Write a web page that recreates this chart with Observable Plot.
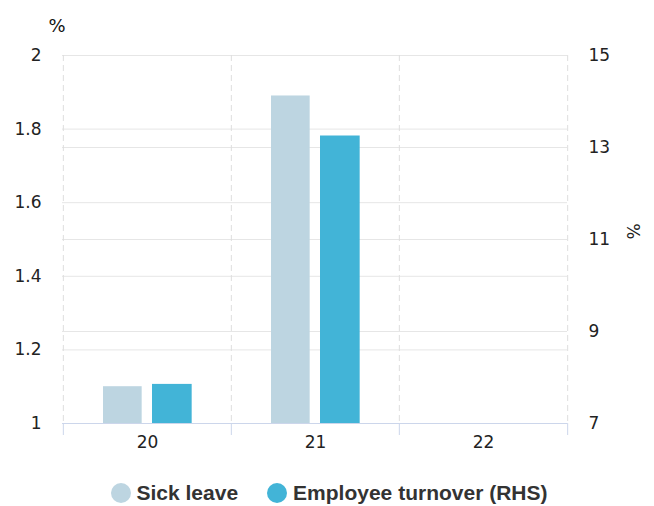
<!DOCTYPE html>
<html>
<head>
<meta charset="utf-8">
<script src="https://cdn.jsdelivr.net/npm/d3@7"></script>
<script src="https://cdn.jsdelivr.net/npm/@observablehq/plot@0.6"></script>
<style>
  html, body { margin: 0; padding: 0; background: #fff; }
  #chart { width: 654px; }
  .legend { display: flex; justify-content: center; align-items: center; gap: 29px; height: 36px; padding-left: 4px; padding-top: 5px;
    font-family: "Liberation Sans", Arial, sans-serif; font-weight: bold; font-size: 21px; color: #333; }
  .legend .item { display: flex; align-items: center; gap: 6px; }
  .legend .dot { width: 20px; height: 20px; border-radius: 50%; display: inline-block; }
</style>
</head>
<body>
<div id="chart"></div>
<script>
const categories = ["20", "21", "22"];
const sickLeave = [1.1, 1.89, null];
const turnover = [7.85, 13.25, null];
const leftTicks = [1, 1.2, 1.4, 1.6, 1.8, 2];
const rightTicks = [7, 9, 11, 13, 15];
const seriesNames = ["Sick leave", "Employee turnover (RHS)"];
const colors = ["#bdd5e1", "#42b4d7"];

const W = 654, H = 470, mL = 62, mR = 87, mT = 55, mB = 47;
const bw = (W - mL - mR) / categories.length;

// right axis [7,15] mapped onto left axis [1,2]
const toLeft = v => v == null ? null : 1 + (v - 7) / 8;
const fromLeft = d => Math.round((d - 1) * 8 + 7);

const rows = categories.map((c, i) => ({cat: c, sick: sickLeave[i], turn: toLeft(turnover[i])}));

const font = "'DejaVu Sans', sans-serif";
const chart = Plot.plot({
  width: W, height: H,
  marginLeft: mL, marginRight: mR, marginTop: mT, marginBottom: mB,
  style: {fontFamily: font, fontSize: "16px", color: "#222", background: "#fff"},
  x: {type: "band", domain: categories, padding: 0},
  y: {domain: [1, 2]},
  marks: [
    Plot.gridY(leftTicks.slice(1), {stroke: "#e6e6e6", strokeOpacity: 1}),
    Plot.gridY(rightTicks.slice(1).map(toLeft), {stroke: "#e6e6e6", strokeOpacity: 1}),
    Plot.ruleX(categories, {x: d => d, dx: -bw / 2, stroke: "#dedede", strokeDasharray: "6,4"}),
    Plot.ruleX(categories.slice(-1), {x: d => d, dx: bw / 2, stroke: "#dedede", strokeDasharray: "6,4"}),
    Plot.barY(rows.filter(d => d.sick != null), {x: "cat", y1: 1, y2: "sick", fill: colors[0], insetLeft: 40, insetRight: bw - 79}),
    Plot.barY(rows.filter(d => d.turn != null), {x: "cat", y1: 1, y2: "turn", fill: colors[1], insetLeft: 89, insetRight: bw - 129}),
    Plot.ruleY([1], {stroke: "#ccd6eb"}),
    Plot.axisX(categories, {tickSize: 12, tickFormat: () => "", dx: -bw / 2, stroke: "#ccd6eb", label: null}),
    Plot.axisX(categories.slice(-1), {tickSize: 12, tickFormat: () => "", dx: bw / 2, stroke: "#ccd6eb", label: null}),
    Plot.axisX(categories, {tickSize: 0, tickPadding: 12, fontSize: 17, fill: "#222", label: null}),
    Plot.axisY(leftTicks, {anchor: "left", tickSize: 0, tickPadding: 21, fontSize: 17, fill: "#222", label: null, tickFormat: d => String(d)}),
    Plot.axisY(rightTicks.map(toLeft), {anchor: "right", tickSize: 0, tickPadding: 21, fontSize: 17, fill: "#222", label: null, tickFormat: fromLeft}),
    Plot.text(["%"], {frameAnchor: "top-left", dx: -14, dy: -36, fontSize: 18, fill: "#111"}),
    Plot.text(["%"], {frameAnchor: "right", dx: 65, rotate: 90, fontSize: 17, fill: "#222"})
  ]
});
document.getElementById("chart").appendChild(chart);

const legend = document.createElement("div");
legend.className = "legend";
seriesNames.forEach((name, i) => {
  const item = document.createElement("span");
  item.className = "item";
  const dot = document.createElement("span");
  dot.className = "dot";
  dot.style.background = colors[i];
  const label = document.createElement("span");
  label.textContent = name;
  item.append(dot, label);
  legend.append(item);
});
document.getElementById("chart").appendChild(legend);
</script>
</body>
</html>
